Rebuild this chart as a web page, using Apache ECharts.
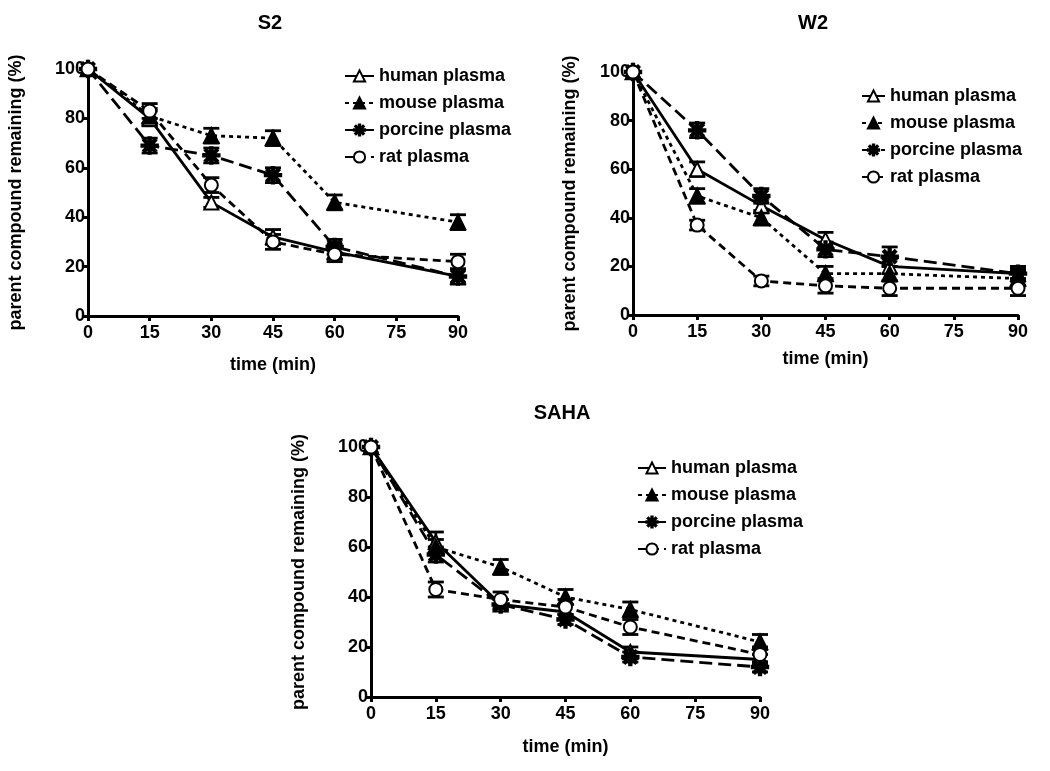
<!DOCTYPE html>
<html>
<head>
<meta charset="utf-8">
<script src="https://cdn.jsdelivr.net/npm/echarts@6/dist/echarts.min.js"></script>
<style>html,body{margin:0;padding:0;background:#fff;}#c{width:1050px;height:771px;}</style>
</head>
<body>
<div id="c"></div>
<script>
const times = [0, 15, 30, 45, 60, 90];
const seriesNames = ['human plasma', 'mouse plasma', 'porcine plasma', 'rat plasma'];
const panelTitles = ['S2', 'W2', 'SAHA'];

// S2
const s2Human   = [100, 80, 46, 32, 26, 16];
const s2Mouse   = [100, 81, 73, 72, 46, 38];
const s2Porcine = [100, 69, 65, 57, 28, 16];
const s2Rat     = [100, 83, 53, 30, 25, 22];
const s2HumanErr   = [0, 3, 2, 3, 3, 3];
const s2MouseErr   = [0, 3, 3, 3, 3, 3];
const s2PorcineErr = [0, 3, 3, 3, 3, 3];
const s2RatErr     = [0, 3, 3, 3, 3, 3];

// W2
const w2Human   = [100, 60, 45, 31, 20, 17];
const w2Mouse   = [100, 49, 40, 17, 17, 15];
const w2Porcine = [100, 76, 49, 27, 24, 17];
const w2Rat     = [100, 37, 14, 12, 11, 11];
const w2HumanErr   = [0, 3, 3, 3, 3, 2];
const w2MouseErr   = [0, 3, 3, 3, 3, 3];
const w2PorcineErr = [0, 3, 3, 3, 4, 3];
const w2RatErr     = [0, 2, 2, 3, 3, 3];

// SAHA
const sahaHuman   = [100, 62, 37, 34, 18, 15];
const sahaMouse   = [100, 60, 52, 40, 35, 22];
const sahaPorcine = [100, 57, 37, 31, 16, 12];
const sahaRat     = [100, 43, 39, 36, 28, 17];
const sahaHumanErr   = [0, 4, 2, 3, 2, 2];
const sahaMouseErr   = [0, 3, 3, 3, 3, 3];
const sahaPorcineErr = [0, 3, 2, 2, 2, 2];
const sahaRatErr     = [0, 3, 3, 3, 3, 3];

const panelValues = [
  [s2Human, s2Mouse, s2Porcine, s2Rat],
  [w2Human, w2Mouse, w2Porcine, w2Rat],
  [sahaHuman, sahaMouse, sahaPorcine, sahaRat]
];
const panelErrors = [
  [s2HumanErr, s2MouseErr, s2PorcineErr, s2RatErr],
  [w2HumanErr, w2MouseErr, w2PorcineErr, w2RatErr],
  [sahaHumanErr, sahaMouseErr, sahaPorcineErr, sahaRatErr]
];

const FONT = "'Liberation Sans', Arial, sans-serif";
const asterisk = 'path://M-1.2,-10L1.2,-10L1.2,10L-1.2,10Z M-10,1.2L-10,-1.2L10,-1.2L10,1.2Z M-7.9,-6.2L-6.2,-7.9L7.9,6.2L6.2,7.9Z M6.2,-7.9L7.9,-6.2L-6.2,7.9L-7.9,6.2Z';

const styles = [
  {symbol: 'emptyTriangle', size: 14, dash: 'solid'},
  {symbol: 'triangle', size: 14, dash: [4, 4]},
  {symbol: asterisk, size: 16, dash: [13, 6]},
  {symbol: 'emptyCircle', size: 13, dash: [8, 5]}
];

const grids = [
  {left: 88, top: 69, width: 370, height: 247},
  {left: 633, top: 72, width: 385, height: 243},
  {left: 371, top: 447, width: 389, height: 250}
];
const titlePos = [{x: 265, y: 8}, {x: 808, y: 8}, {x: 557, y: 398}];
const legendPos = [{x: 339, y: 62}, {x: 856, y: 82}, {x: 632, y: 454}];
const legendIconW = [29, 23, 28];
const yNameGap = [63, 54, 63];
const xNameGap = [40, 35, 41];

const option = {
  animation: false,
  backgroundColor: '#fff',
  title: panelTitles.map((t, i) => ({
    text: t, left: titlePos[i].x, top: titlePos[i].y, textAlign: 'center',
    textStyle: {fontFamily: FONT, fontWeight: 'bold', fontSize: 20, color: '#000'}
  })),
  legend: [0, 1, 2].map(i => ({
    orient: 'vertical', left: legendPos[i].x, top: legendPos[i].y,
    itemWidth: legendIconW[i], itemHeight: 14, itemGap: 9,
    data: seriesNames,
    textStyle: {fontFamily: FONT, fontWeight: 'bold', fontSize: 18, color: '#000'},
    selectedMode: false
  })),
  grid: grids,
  xAxis: grids.map((g, i) => ({
    type: 'value', gridIndex: i, min: 0, max: 90, interval: 15,
    name: 'time (min)', nameLocation: 'middle', nameGap: xNameGap[i],
    nameTextStyle: {fontFamily: FONT, fontWeight: 'bold', fontSize: 18, color: '#000'},
    axisLine: {lineStyle: {color: '#000', width: 3}},
    axisTick: {show: true, length: 5, lineStyle: {color: '#000', width: 3}},
    axisLabel: {fontFamily: FONT, fontWeight: 'bold', fontSize: 18, color: '#000', margin: 8},
    splitLine: {show: false}
  })),
  yAxis: grids.map((g, i) => ({
    type: 'value', gridIndex: i, min: 0, max: 100, interval: 20,
    name: 'parent compound remaining (%)', nameLocation: 'middle', nameGap: yNameGap[i],
    nameTextStyle: {fontFamily: FONT, fontWeight: 'bold', fontSize: 18, color: '#000'},
    axisLine: {show: true, lineStyle: {color: '#000', width: 3}},
    axisTick: {show: true, length: 5, lineStyle: {color: '#000', width: 3}},
    axisLabel: {fontFamily: FONT, fontWeight: 'bold', fontSize: 18, color: '#000', margin: 3},
    splitLine: {show: false}
  })),
  series: []
};

for (let p = 0; p < 3; p++) {
  for (let s = 0; s < 4; s++) {
    const vals = panelValues[p][s];
    const errs = panelErrors[p][s];
    option.series.push({
      type: 'line', name: seriesNames[s], xAxisIndex: p, yAxisIndex: p,
      data: times.map((t, k) => [t, vals[k]]),
      symbol: styles[s].symbol, symbolSize: styles[s].size,
      showAllSymbol: true,
      lineStyle: {color: '#000', width: 2.8, type: styles[s].dash},
      itemStyle: {color: '#000', borderColor: '#000', borderWidth: 2.4},
      z: 3
    });
    option.series.push({
      type: 'custom', name: seriesNames[s] + ' err', xAxisIndex: p, yAxisIndex: p,
      data: times.map((t, k) => [t, vals[k], errs[k]]),
      renderItem: function (params, api) {
        const x = api.value(0), y = api.value(1), e = api.value(2);
        if (!e) return {type: 'group', children: []};
        const top = api.coord([x, y + e]);
        const bot = api.coord([x, y - e]);
        const hw = 8;
        const st = {stroke: '#000', lineWidth: 2.8};
        return {type: 'group', children: [
          {type: 'line', shape: {x1: top[0], y1: top[1], x2: bot[0], y2: bot[1]}, style: st},
          {type: 'line', shape: {x1: top[0] - hw, y1: top[1], x2: top[0] + hw, y2: top[1]}, style: st},
          {type: 'line', shape: {x1: bot[0] - hw, y1: bot[1], x2: bot[0] + hw, y2: bot[1]}, style: st}
        ]};
      },
      z: 2
    });
  }
}

const chart = echarts.init(document.getElementById('c'), null, {renderer: 'canvas'});
chart.setOption(option);
</script>
</body>
</html>
